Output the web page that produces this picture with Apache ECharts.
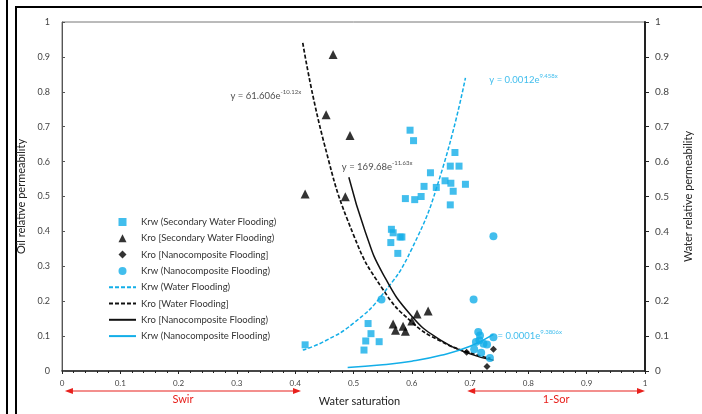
<!DOCTYPE html>
<html>
<head>
<meta charset="utf-8">
<script src="https://cdn.jsdelivr.net/npm/echarts@6/dist/echarts.min.js"></script>
<style>
  html, body { margin: 0; padding: 0; background: #fff; }
  #chart { width: 702px; height: 414px; }
</style>
</head>
<body>
<div id="chart"></div>
<script>
// points: [water saturation, relative permeability]
const krwSecondary = [
  [0.417, 0.075], [0.597, 0.690], [0.603, 0.660], [0.674, 0.626], [0.666, 0.587],
  [0.681, 0.587], [0.632, 0.568], [0.692, 0.535], [0.621, 0.529], [0.657, 0.545],
  [0.667, 0.538], [0.642, 0.526], [0.671, 0.515], [0.616, 0.500], [0.589, 0.494],
  [0.605, 0.491], [0.666, 0.476], [0.565, 0.406], [0.568, 0.396], [0.580, 0.384],
  [0.583, 0.384], [0.564, 0.368], [0.576, 0.337], [0.525, 0.136], [0.530, 0.107],
  [0.521, 0.086], [0.544, 0.084], [0.518, 0.060]
];
const kroSecondary = [
  [0.465, 0.907], [0.453, 0.734], [0.494, 0.675], [0.417, 0.507], [0.486, 0.499],
  [0.628, 0.172], [0.609, 0.163], [0.600, 0.143], [0.568, 0.135], [0.585, 0.128],
  [0.572, 0.117], [0.589, 0.114]
];
const kroNano = [[0.694, 0.054], [0.740, 0.062], [0.729, 0.013]];
const krwNano = [
  [0.548, 0.205], [0.740, 0.386], [0.706, 0.205], [0.714, 0.112], [0.717, 0.102],
  [0.740, 0.097], [0.710, 0.083], [0.723, 0.078], [0.729, 0.076], [0.707, 0.062],
  [0.719, 0.052], [0.734, 0.037], [0.716, 0.088]
];
// trend lines
const krwWaterFit = [
  [0.413, 0.060], [0.45, 0.085], [0.50, 0.137], [0.55, 0.220], [0.60, 0.350],
  [0.65, 0.565], [0.692, 0.840]
];
const kroWaterFit = [
  [0.413, 0.940], [0.45, 0.650], [0.50, 0.390], [0.55, 0.235], [0.60, 0.140],
  [0.65, 0.085], [0.70, 0.052], [0.735, 0.036]
];
const kroNanoFit = [
  [0.492, 0.555], [0.52, 0.400], [0.55, 0.280], [0.60, 0.157], [0.65, 0.088],
  [0.70, 0.049], [0.74, 0.031]
];
const krwNanoFit = [
  [0.49, 0.010], [0.55, 0.018], [0.60, 0.028], [0.65, 0.045], [0.70, 0.071], [0.74, 0.105]
];
// equations: [x, y of left end], base text, exponent
const equations = [
  [[0.289, 0.791], 'y = 61.606e', '-10.12x', '#222'],
  [[0.480, 0.587], 'y = 169.68e', '-11.63x', '#222'],
  [[0.733, 0.837], 'y = 0.0012e', '9.458x', '#13aee8'],
  [[0.747, 0.103], '= 0.0001e', '9.3806x', '#13aee8']
];

const legendLabels = {
  krwSec: 'Krw (Secondary Water Flooding)',
  kroSec: 'Kro [Secondary Water Flooding)',
  kroNano: 'Kro [Nanocomposite Flooding]',
  krwNano: 'Krw (Nanocomposite Flooding)',
  krwWater: 'Krw (Water Flooding)',
  kroWater: 'Kro [Water Flooding]',
  kroNanoLine: 'Kro [Nanocomposite Flooding)',
  krwNanoLine: 'Krw (Nanocomposite Flooding)'
};

const BLUE = '#13aee8';
const FONT = 'Lato';

var chart = echarts.init(document.getElementById('chart'));

var noDot = { opacity: 0 };

var option = {
  animation: false,
  textStyle: { fontFamily: FONT },
  grid: { left: 62, right: 52, top: 22, bottom: 43, show: true, borderColor: '#777', borderWidth: 1 },
  legend: {
    orient: 'vertical',
    left: 103,
    top: 212,
    itemWidth: 27,
    itemHeight: 8,
    itemGap: 6.3,
    symbolKeepAspect: true,
    textStyle: { fontSize: 9.5, fontFamily: FONT, color: '#333' },
    formatter: function (n) { return legendLabels[n]; },
    data: [
      { name: 'krwSec', icon: 'path://M0,0H10V10H0Z' },
      { name: 'kroSec', icon: 'path://M5,0L10,10L0,10Z' },
      { name: 'kroNano', icon: 'path://M5,0L10,5L5,10L0,5Z' },
      { name: 'krwNano', icon: 'path://M5,0A5,5,0,1,1,5,10A5,5,0,1,1,5,0Z' },
      { name: 'krwWater', itemStyle: noDot },
      { name: 'kroWater', itemStyle: noDot },
      { name: 'kroNanoLine', itemStyle: noDot },
      { name: 'krwNanoLine', itemStyle: noDot }
    ]
  },
  xAxis: {
    type: 'value', min: 0, max: 1, interval: 0.1,
    name: 'Water saturation', nameLocation: 'middle', nameGap: 25,
    nameTextStyle: { fontSize: 11, color: '#222', padding: [0, 0, 0, 12] },
    axisLine: { lineStyle: { color: '#222', width: 1.5 } },
    axisTick: { length: 3, lineStyle: { color: '#222' } },
    minorTick: { show: true, splitNumber: 5, length: 2, lineStyle: { color: '#222' } },
    axisLabel: { fontSize: 8, color: '#444', margin: 8 },
    splitLine: { show: false }
  },
  yAxis: [
    {
      type: 'value', min: 0, max: 1, interval: 0.1, position: 'left',
      name: 'Oil relative permeability', nameLocation: 'middle', nameGap: 29, nameRotate: 90,
      nameTextStyle: { fontSize: 11, color: '#222' },
      axisLine: { show: true, lineStyle: { color: '#555' } },
      axisTick: { show: true, inside: true, length: 3, lineStyle: { color: '#555' } },
      axisLabel: { fontSize: 9, color: '#444', margin: 12 },
      splitLine: { show: false }
    },
    {
      type: 'value', min: 0, max: 1, interval: 0.1, position: 'right',
      name: 'Water relative permeability', nameLocation: 'middle', nameGap: 38, nameRotate: 90,
      nameTextStyle: { fontSize: 11, color: '#222' },
      axisLine: { show: true, lineStyle: { color: '#222', width: 2 } },
      axisTick: { show: true, length: 4, lineStyle: { color: '#222' } },
      axisLabel: { fontSize: 10, color: '#444', margin: 10 },
      splitLine: { show: false }
    }
  ],
  series: [
    {
      name: 'krwWater', type: 'line', data: krwWaterFit, smooth: true, symbol: 'none', z: 2,
      lineStyle: { color: BLUE, width: 1.5, type: [4, 2] }, itemStyle: { color: BLUE }
    },
    {
      name: 'kroWater', type: 'line', data: kroWaterFit, smooth: true, symbol: 'none', z: 2,
      lineStyle: { color: '#111', width: 1.7, type: [4, 2] }, itemStyle: { color: '#111' }
    },
    {
      name: 'kroNanoLine', type: 'line', data: kroNanoFit, smooth: true, symbol: 'none', z: 2,
      lineStyle: { color: '#111', width: 1.5 }, itemStyle: { color: '#111' }
    },
    {
      name: 'krwNanoLine', type: 'line', data: krwNanoFit, smooth: true, symbol: 'none', z: 2,
      lineStyle: { color: BLUE, width: 1.5 }, itemStyle: { color: BLUE }
    },
    {
      name: 'krwSec', type: 'scatter', data: krwSecondary, symbol: 'rect', symbolSize: 7, z: 3,
      itemStyle: { color: BLUE }
    },
    {
      name: 'kroSec', type: 'scatter', data: kroSecondary, symbol: 'triangle', symbolSize: 9, z: 3,
      itemStyle: { color: '#000' }
    },
    {
      name: 'kroNano', type: 'scatter', data: kroNano, symbol: 'diamond', symbolSize: 7, z: 3,
      itemStyle: { color: '#000' }
    },
    {
      name: 'krwNano', type: 'scatter', data: krwNano, symbol: 'circle', symbolSize: 8, z: 3,
      itemStyle: { color: BLUE }
    },
    {
      type: 'scatter', symbolSize: 0, silent: true, z: 4,
      data: equations.map(function (e) {
        return {
          value: e[0],
          label: {
            show: true, position: 'right', distance: 0,
            formatter: '{b|' + e[1] + '}{s|' + e[2] + '}',
            rich: {
              b: { fontSize: 9.5, fontFamily: FONT, color: e[3], lineHeight: 12, verticalAlign: 'bottom' },
              s: { fontSize: 6, fontFamily: FONT, color: e[3], lineHeight: 12, verticalAlign: 'top' }
            }
          }
        };
      })
    }
  ]
};
chart.setOption(option);

// red range arrows under the x axis
function arrow(x0, x1, text) {
  var p0 = chart.convertToPixel({ xAxisIndex: 0 }, x0);
  var p1 = chart.convertToPixel({ xAxisIndex: 0 }, x1);
  var y = 391, red = '#e8201c';
  return [
    { type: 'line', shape: { x1: p0 + 6, y1: y, x2: p1 - 6, y2: y }, style: { stroke: red, lineWidth: 1.2 } },
    { type: 'polygon', shape: { points: [[p0, y], [p0 + 8, y - 3], [p0 + 8, y + 3]] }, style: { fill: red } },
    { type: 'polygon', shape: { points: [[p1, y], [p1 - 8, y - 3], [p1 - 8, y + 3]] }, style: { fill: red } },
    { type: 'text', x: (p0 + p1) / 2, y: y + 8, style: { text: text, fill: red, font: '11px ' + FONT, align: 'center', verticalAlign: 'middle' } }
  ];
}

chart.setOption({
  graphic: [
    { type: 'line', shape: { x1: 7, y1: 0, x2: 7, y2: 414 }, style: { stroke: '#000', lineWidth: 2 } },
    { type: 'polyline', shape: { points: [[16, 414], [16, 7], [702, 7]] }, style: { stroke: '#000', lineWidth: 2, fill: null } }
  ].concat(arrow(0.005, 0.41, 'Swir'), arrow(0.695, 1, '1-Sor'))
});
</script>
</body>
</html>
